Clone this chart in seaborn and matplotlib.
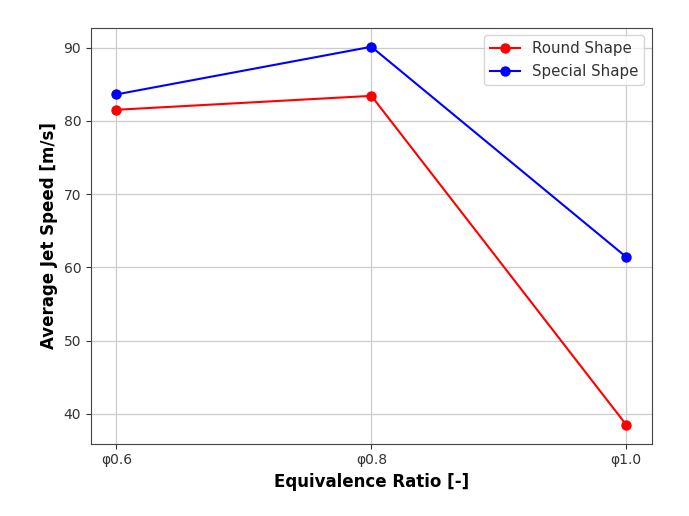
import matplotlib
matplotlib.use("Agg")
import matplotlib.pyplot as plt
import seaborn as sns
import pandas as pd

categories = ["φ0.6", "φ0.8", "φ1.0"]
round_shape = [81.5, 83.4, 38.5]
special_shape = [83.6, 90.1, 61.4]

df = pd.DataFrame({
    "x": list(range(len(categories))) * 2,
    "speed": round_shape + special_shape,
    "series": ["Round Shape"] * 3 + ["Special Shape"] * 3,
})

fig, ax = plt.subplots(figsize=(6.89, 5.16), dpi=100)
fig.subplots_adjust(left=0.132, right=0.946, top=0.946, bottom=0.140)

sns.lineplot(data=df, x="x", y="speed", hue="series",
             palette={"Round Shape": "red", "Special Shape": "blue"},
             marker="o", markersize=7.5, markeredgewidth=0, linewidth=1.5,
             ax=ax)

ax.set_xticks(range(len(categories)))
ax.set_xticklabels(categories)
ax.set_xlabel("Equivalence Ratio [-]", fontsize=12, fontweight="bold")
ax.set_ylabel("Average Jet Speed [m/s]", fontsize=12, fontweight="bold")
ax.tick_params(labelsize=10, colors="#333333")
for s in ax.spines.values():
    s.set_color("#444444")
ax.grid(True, color="#cccccc", linewidth=0.9)
ax.set_axisbelow(True)
leg = ax.legend(loc="upper right", fontsize=10.8, title=None)
for t in leg.get_texts():
    t.set_color("#333333")

fig.savefig("out.png", dpi=100)
